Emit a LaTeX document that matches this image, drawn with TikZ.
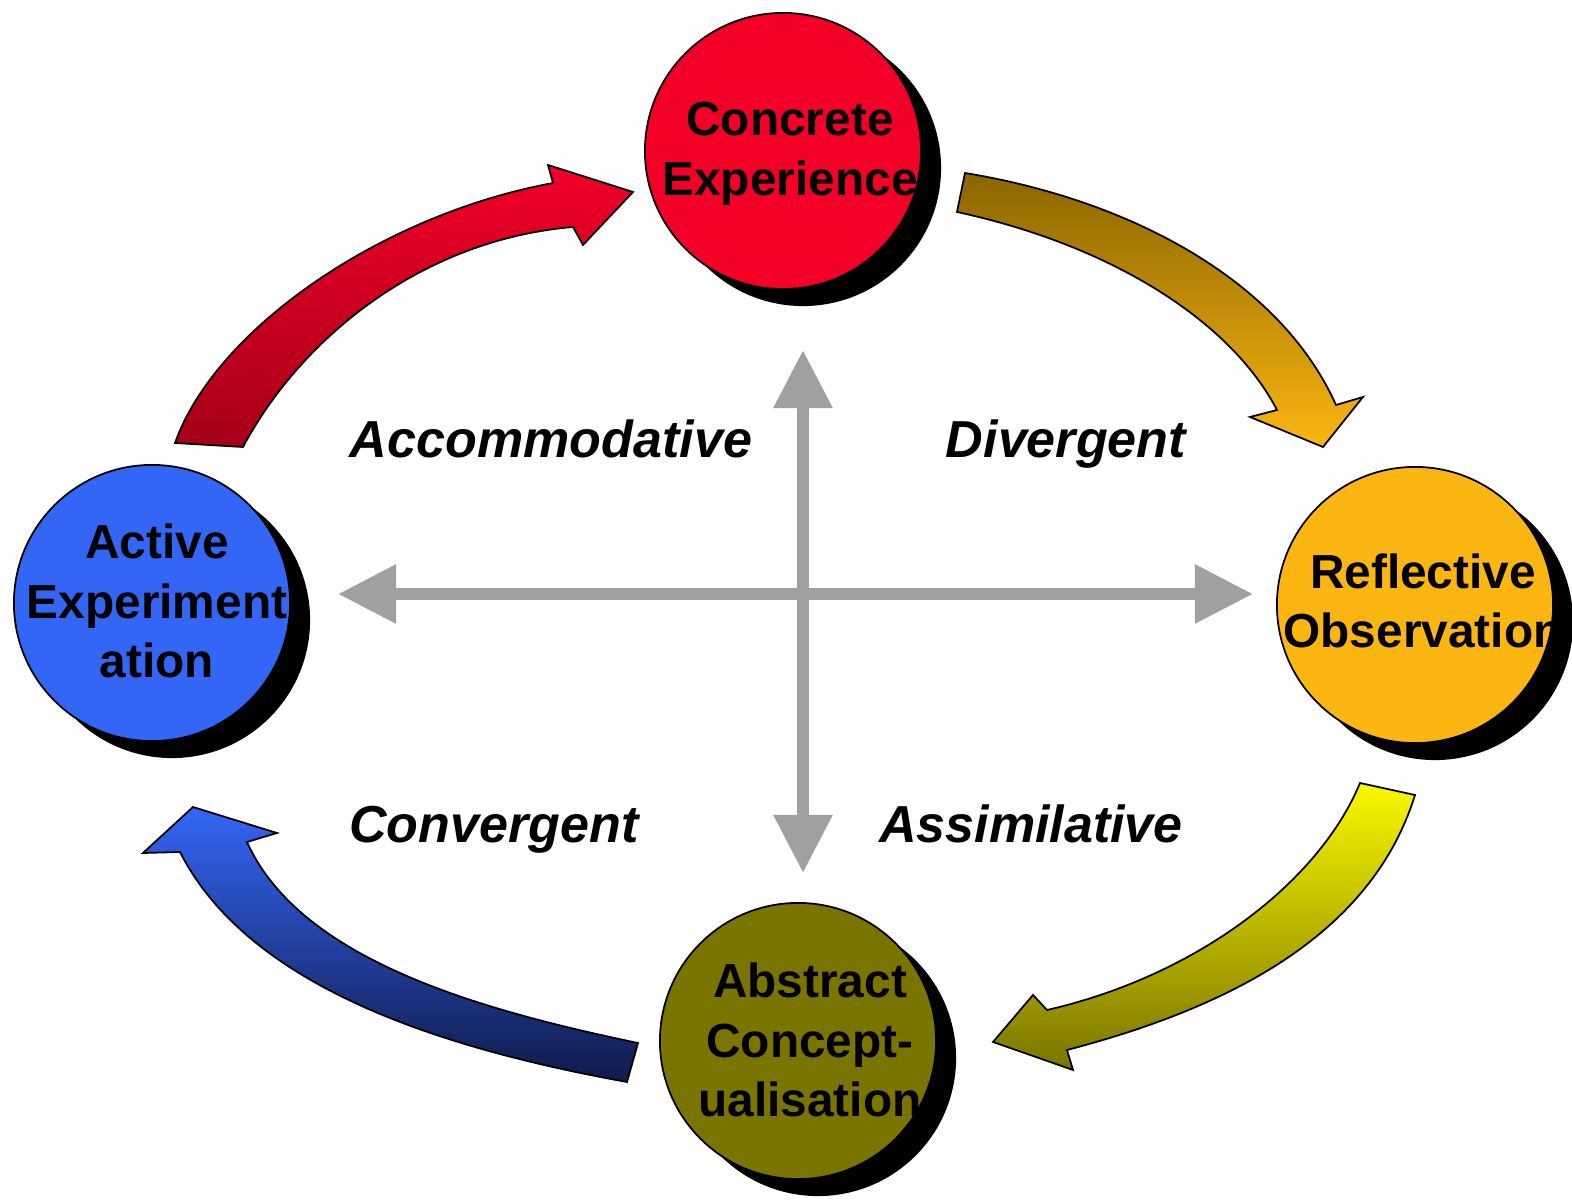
\documentclass[tikz,border=0pt]{standalone}
\usepackage{fontspec}
\setmainfont{Liberation Sans}
\usetikzlibrary{arrows.meta}
\usetikzlibrary{shadows}
\definecolor{cered}{RGB}{242,0,40}
\definecolor{cedark}{RGB}{165,0,24}
\definecolor{roorange}{RGB}{252,182,18}
\definecolor{robrown}{RGB}{138,102,0}
\definecolor{acolive}{RGB}{122,116,0}
\definecolor{acyellow}{RGB}{250,248,0}
\definecolor{aeblue}{RGB}{52,102,245}
\definecolor{aenavy}{RGB}{16,26,74}
\definecolor{axisgray}{RGB}{160,160,160}

\begin{document}
\begin{tikzpicture}[x=0.01cm,y=-0.01cm,
	stage/.style={circle,draw=black,line width=0.5pt,minimum size=2.76cm,inner sep=0pt,
		drop shadow={shadow xshift=0.2cm,shadow yshift=-0.17cm,fill=black,opacity=1}},
	stagetext/.style={align=center,inner sep=0pt,font=\fontsize{13.6}{17}\selectfont\bfseries},
	learnstyle/.style={anchor=base,inner sep=0pt,font=\fontsize{14.8}{17}\selectfont\bfseries\itshape},
	axis/.style={draw=axisgray,line width=0.12cm,{Triangle[length=0.58cm,width=0.56cm]}-{Triangle[length=0.58cm,width=0.56cm]}},
	flow/.style={draw=black,line width=0.5pt}]
		\useasboundingbox (0,0) rectangle (1572,1204);
		\coordinate (hl) at (338,594);
		\coordinate (hr) at (1253,594);
		\coordinate (vt) at (803,350);
		\coordinate (vb) at (803,873);
		\draw[axis] (hl) -- (hr);
		\draw[axis] (vt) -- (vb);
		\draw[flow,top color=cered,bottom color=cedark] (175,443) .. controls (215,330) and (380,215) .. (553,183) -- (548,165) -- (633,192) -- (583,245) -- (573,227) .. controls (420,240) and (300,340) .. (243,447) -- cycle;
		\draw[flow,top color=robrown,bottom color=roorange] (965,173) .. controls (1130,200) and (1280,280) .. (1336,405) -- (1363,397) -- (1323,447) -- (1250,417) -- (1277,410) .. controls (1230,320) and (1110,245) .. (957,212) -- cycle;
		\draw[flow,top color=acyellow,bottom color=acolive] (1415,795) .. controls (1370,940) and (1220,1010) .. (1067,1050) -- (1073,1070) -- (993,1042) -- (1033,995) -- (1047,1010) .. controls (1200,975) and (1320,880) .. (1360,783) -- cycle;
		\draw[flow,top color=aeblue,bottom color=aenavy] (638,1043) .. controls (480,1010) and (300,960) .. (247,842) -- (277,833) -- (193,807) -- (143,853) -- (180,852) .. controls (250,990) and (450,1050) .. (627,1082) -- cycle;
		\node[stage,fill=cered] (ce) at (783,151) {};
		\node[stage,fill=roorange] (ro) at (1415,605) {};
		\node[stage,fill=acolive] (ac) at (798,1041) {};
		\node[stage,fill=aeblue] (ae) at (152,603) {};
		\node[stagetext] (cetext) at (790,154) {Concrete\\Experience};
		\node[stagetext] (rotext) at (1423,601) {Reflective\\Observation};
		\node[stagetext] (actext) at (810,1040) {Abstract\\Concept-\\ualisation};
		\node[stagetext] (aetext) at (157,601) {Active\\Experiment\\ation};
		\node[learnstyle] (acc) at (551,458) {Accommodative};
		\node[learnstyle] (div) at (1066,458) {Divergent};
		\node[learnstyle] (conv) at (494,843) {Convergent};
		\node[learnstyle] (assim) at (1031,843) {Assimilative};
\end{tikzpicture}
\end{document}
